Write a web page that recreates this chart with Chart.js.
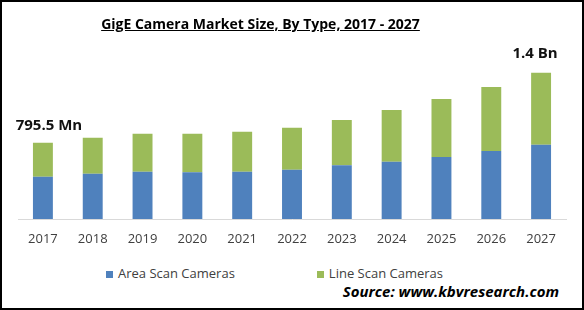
<!DOCTYPE html>
<html>
<head>
	<meta charset="utf-8">
	<title>GigE Camera Market Size</title>
	<style>
		body { margin: 0; background: #fff; font-family: "Open Sans", sans-serif; }
		#page { position: relative; width: 584px; height: 310px; overflow: hidden; }
		#frame { position: absolute; left: 0; top: 0; width: 584px; height: 310px; box-sizing: border-box; border: 2px solid #000; pointer-events: none; }
		#chartBox { position: absolute; left: 0; top: 0; width: 584px; height: 260px; }
		#title { position: absolute; left: 0; top: 14px; width: 521px; text-align: center; font-weight: bold; font-size: 14px; line-height: 20px; text-decoration: underline; color: #000; }
		#legend { position: absolute; left: 106px; top: 264px; display: flex; align-items: center; font-size: 13px; line-height: 18px; color: #404040; }
		#legend .item { display: flex; align-items: center; margin-right: 82px; }
		#legend .box { width: 7px; height: 7px; margin-right: 5px; margin-top: 2px; }
		#source { position: absolute; right: 25px; top: 281px; font-weight: bold; font-style: italic; font-size: 15px; line-height: 21px; color: #000; }
	</style>
</head>
<body>
	<div id="page">
		<div id="chartBox"><canvas id="myChart"></canvas></div>
		<div id="title">GigE Camera Market Size, By Type, 2017 - 2027</div>
		<div id="legend"></div>
		<div id="source">Source: www.kbvresearch.com</div>
		<div id="frame"></div>
	</div>
	<script type="text/javascript" src="https://cdn.jsdelivr.net/npm/chart.js@4.4.0/dist/chart.umd.min.js"></script>
	<script type="text/javascript">
		// values in USD million
		const years = ["2017", "2018", "2019", "2020", "2021", "2022", "2023", "2024", "2025", "2026", "2027"];
		const areaScan = [441, 472, 493, 487, 493, 513, 560, 597, 645, 709, 775];
		const lineScan = [354.5, 376, 396, 402, 417, 439, 472, 539, 606, 667, 750];
		const totalLabels = ["795.5 Mn", "", "", "", "", "", "", "", "", "", "1.4 Bn"];

		const blue = "#4f81bd";
		const green = "#9bbb59";

		// writes the two total labels above the first and last bar
		const totalsPlugin = {
			id: "totals",
			afterDatasetsDraw(chart) {
				let ctx = chart.ctx;
				let meta = chart.getDatasetMeta(1);
				ctx.save();
				ctx.font = "bold 15px 'Open Sans'";
				ctx.fillStyle = "#111";
				ctx.textAlign = "center";
				ctx.textBaseline = "middle";
				for (let i = 0; i < totalLabels.length; ++i) {
					if (!totalLabels[i]) continue;
					let bar = meta.data[i];
					let dx = i == 0 ? 6 : -6;
					let dy = i == 0 ? -17 : -19;
					ctx.fillText(totalLabels[i], bar.x + dx, bar.y + dy);
				}
				ctx.restore();
			}
		};

		let ctx = document.getElementById("myChart").getContext("2d");
		let myChart = new Chart(ctx, {
			type: "bar",
			data: {
				labels: years,
				datasets: [
					{ label: "Area Scan Cameras", data: areaScan, backgroundColor: blue },
					{ label: "Line Scan Cameras", data: lineScan, backgroundColor: green },
				],
			},
			options: {
				responsive: true,
				maintainAspectRatio: false,
				animation: false,
				events: [],
				categoryPercentage: 1,
				barPercentage: 0.4,
				layout: { padding: { left: 18, right: 18, top: 65.5, bottom: 13 } },
				plugins: {
					legend: { display: false },
					tooltip: { enabled: false },
				},
				scales: {
					x: {
						stacked: true,
						grid: { display: false, drawTicks: false },
						border: { display: true, color: "#d9d9d9", width: 1 },
						ticks: { color: "#404040", padding: 12, font: { family: "'Open Sans'", size: 13 } },
						afterFit: function(scale) { scale.height = 28; },
					},
					y: {
						stacked: true,
						display: false,
						min: 0,
						max: 1600,
					},
				},
			},
			plugins: [totalsPlugin],
		});

		// html legend built from the datasets
		let legend = document.getElementById("legend");
		myChart.data.datasets.forEach(function(ds) {
			let item = document.createElement("div");
			item.className = "item";
			let box = document.createElement("span");
			box.className = "box";
			box.style.background = ds.backgroundColor;
			let text = document.createElement("span");
			text.textContent = ds.label;
			item.appendChild(box);
			item.appendChild(text);
			legend.appendChild(item);
		});
	</script>
</body>
</html>
